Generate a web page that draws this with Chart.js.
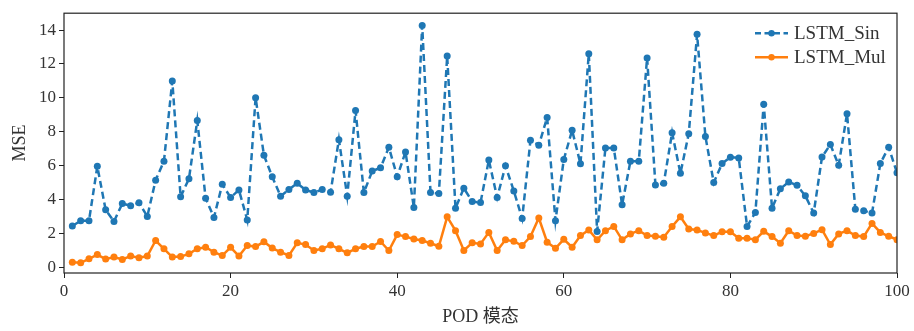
<!DOCTYPE html>
<html lang="zh">
<head>
<meta charset="UTF-8" />
<title>LSTM MSE</title>
<style>
  html, body { margin: 0; padding: 0; background: #fff; }
  #wrap { width: 914px; height: 331px; }
</style>
</head>
<body>
<div id="wrap"><canvas id="chart" width="914" height="331"></canvas></div>
<script src="https://cdn.jsdelivr.net/npm/chart.js"></script>
<script>
  // POD mode index 1..100
  const modes = Array.from({ length: 100 }, (_, i) => i + 1);

  const lstmSin = [
    2.43, 2.74, 2.74, 5.95, 3.38, 2.70, 3.75, 3.62, 3.80, 2.99,
    5.13, 6.26, 11.0, 4.15, 5.22, 8.66, 4.07, 2.93, 4.89, 4.11,
    4.56, 2.78, 10.01, 6.61, 5.34, 4.19, 4.58, 4.95, 4.56, 4.40,
    4.58, 4.42, 7.53, 4.19, 9.25, 4.40, 5.67, 5.87, 7.08, 5.34,
    6.80, 3.52, 14.28, 4.40, 4.34, 12.47, 3.48, 4.66, 3.87, 3.81,
    6.32, 4.11, 5.98, 4.50, 2.87, 7.49, 7.20, 8.84, 2.74, 6.36,
    8.08, 6.10, 12.61, 2.10, 7.04, 7.04, 3.68, 6.26, 6.26, 12.36,
    4.85, 4.95, 7.94, 5.54, 7.88, 13.75, 7.72, 4.99, 6.12, 6.49,
    6.45, 2.40, 3.23, 9.62, 3.48, 4.63, 5.03, 4.83, 4.21, 3.19,
    6.51, 7.24, 6.02, 9.06, 3.42, 3.33, 3.19, 6.12, 7.08, 5.57
  ];

  const lstmMul = [
    0.29, 0.25, 0.49, 0.74, 0.47, 0.59, 0.45, 0.65, 0.55, 0.65,
    1.57, 1.08, 0.59, 0.62, 0.78, 1.08, 1.17, 0.88, 0.68, 1.17,
    0.65, 1.27, 1.21, 1.49, 1.12, 0.88, 0.69, 1.43, 1.33, 0.98,
    1.08, 1.31, 1.08, 0.84, 1.08, 1.21, 1.21, 1.51, 0.98, 1.92,
    1.80, 1.66, 1.57, 1.41, 1.23, 2.97, 2.15, 0.98, 1.43, 1.37,
    2.05, 0.98, 1.61, 1.52, 1.27, 1.80, 2.90, 1.47, 1.11, 1.64,
    1.17, 1.86, 2.19, 1.61, 2.15, 2.40, 1.61, 1.96, 2.15, 1.86,
    1.82, 1.76, 2.40, 2.97, 2.25, 2.19, 2.02, 1.86, 2.09, 2.09,
    1.70, 1.70, 1.62, 2.11, 1.80, 1.41, 2.15, 1.86, 1.82, 1.99,
    2.21, 1.33, 1.96, 2.15, 1.86, 1.80, 2.58, 2.05, 1.82, 1.62
  ];

  const xTicks = [0, 20, 40, 60, 80, 100];
  const yTicks = [0, 2, 4, 6, 8, 10, 12, 14];

  const seriesNames = ["LSTM_Sin", "LSTM_Mul"];
  const blue = "#1f77b4";
  const orange = "#ff7f0e";
  const tickFont = { family: "'Liberation Serif', 'Noto Sans CJK SC', serif", size: 17 };

  // frame + legend, matplotlib style
  const framePlugin = {
    id: "frame",
    afterDraw(chart) {
      const { ctx, chartArea: a } = chart;
      ctx.save();
      ctx.strokeStyle = "#222";
      ctx.lineWidth = 1.2;
      ctx.strokeRect(a.left, a.top, a.right - a.left, a.bottom - a.top);

      // legend in upper right
      const styles = [
        { color: blue, dash: [6, 3.5] },
        { color: orange, dash: [] }
      ];
      ctx.font = "19px 'Liberation Serif', serif";
      ctx.textBaseline = "middle";
      seriesNames.forEach((name, i) => {
        const y = a.top + 20 + i * 24;
        const x0 = a.right - 142;
        ctx.strokeStyle = styles[i].color;
        ctx.lineWidth = 2.5;
        ctx.setLineDash(styles[i].dash);
        ctx.beginPath();
        ctx.moveTo(x0, y);
        ctx.lineTo(x0 + 33, y);
        ctx.stroke();
        ctx.setLineDash([]);
        ctx.fillStyle = styles[i].color;
        ctx.beginPath();
        ctx.arc(x0 + 16.5, y, 3.2, 0, Math.PI * 2);
        ctx.fill();
        ctx.fillStyle = "#333";
        ctx.fillText(name, x0 + 39, y + 1);
      });
      ctx.restore();
    }
  };

  new Chart(document.getElementById("chart"), {
    type: "line",
    data: {
      datasets: [
        {
          label: seriesNames[0],
          data: modes.map((m, i) => ({ x: m, y: lstmSin[i] })),
          borderColor: blue,
          backgroundColor: blue,
          borderWidth: 2.5,
          borderDash: [7, 4],
          pointRadius: 3.5,
          pointBorderWidth: 0,
          tension: 0
        },
        {
          label: seriesNames[1],
          data: modes.map((m, i) => ({ x: m, y: lstmMul[i] })),
          borderColor: orange,
          backgroundColor: orange,
          borderWidth: 2.5,
          pointRadius: 3.5,
          pointBorderWidth: 0,
          tension: 0
        }
      ]
    },
    options: {
      responsive: false,
      animation: false,
      devicePixelRatio: 1,
      layout: { padding: { top: 11, right: 17, left: 9, bottom: 3 } },
      plugins: { legend: { display: false }, tooltip: { enabled: false } },
      scales: {
        x: {
          type: "linear",
          min: 0,
          max: 100,
          afterBuildTicks: (s) => { s.ticks = xTicks.map((v) => ({ value: v })); },
          afterFit: (s) => { s.height = 55; },
          grid: { drawOnChartArea: false, drawTicks: true, tickLength: 5, color: "#222" },
          border: { display: false },
          ticks: { font: tickFont, color: "#333", padding: 3, maxRotation: 0 },
          title: {
            display: true,
            text: "POD 模态",
            font: { family: "'Liberation Serif', 'Noto Sans CJK SC', serif", size: 18 },
            color: "#333",
            padding: { top: 2, bottom: 0 }
          }
        },
        y: {
          min: -0.35,
          max: 15,
          afterBuildTicks: (s) => { s.ticks = yTicks.map((v) => ({ value: v })); },
          afterFit: (s) => { s.width = 55; },
          grid: { drawOnChartArea: false, drawTicks: true, tickLength: 5, color: "#222" },
          border: { display: false },
          ticks: { font: tickFont, color: "#333", padding: 3 },
          title: {
            display: true,
            text: "MSE",
            font: { family: "'Liberation Serif', serif", size: 18 },
            color: "#333",
            padding: { top: 0, bottom: 4 }
          }
        }
      }
    },
    plugins: [framePlugin]
  });
</script>
</body>
</html>
